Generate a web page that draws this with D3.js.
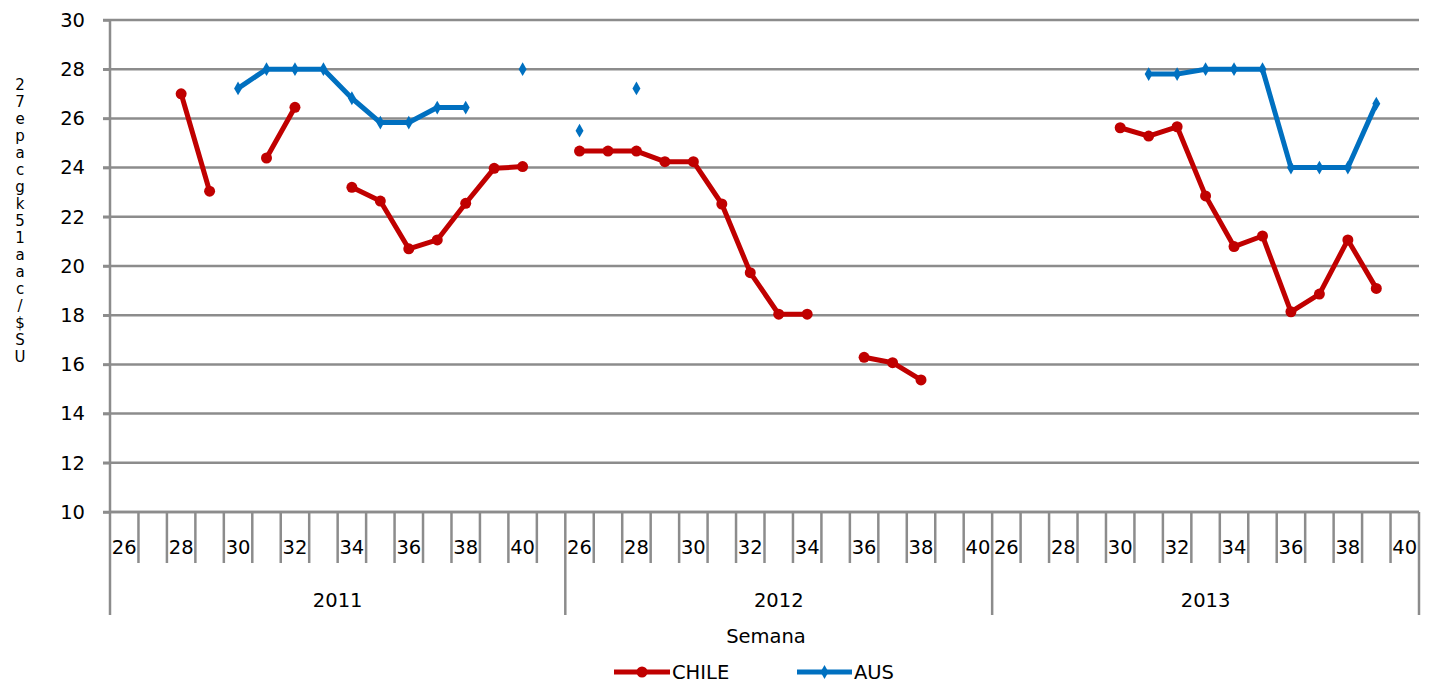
<!DOCTYPE html>
<html>
<head>
<meta charset="utf-8">
<script src="https://cdn.jsdelivr.net/npm/d3@7"></script>
<style>
  html, body { margin: 0; padding: 0; background: #fff; }
  svg { display: block; font-family: "DejaVu Sans", sans-serif; }
</style>
</head>
<body>
<svg id="chart" width="1429" height="687"></svg>
<script>
// ---- Data ----
const years = ["2011", "2012", "2013"];
const weeks2011 = [26,27,28,29,30,31,32,33,34,35,36,37,38,39,40,41];
const weeks2012 = [26,27,28,29,30,31,32,33,34,35,36,37,38,39,40];
const weeks2013 = [26,27,28,29,30,31,32,33,34,35,36,37,38,39,40];

const chile2011 = [null,null,27.0,23.04,null,24.39,26.45,null,23.2,22.64,20.7,21.06,22.55,23.97,24.04,null];
const chile2012 = [24.67,24.67,24.67,24.24,24.24,22.52,19.73,18.04,18.04,null,16.29,16.07,15.37,null,null];
const chile2013 = [null,null,null,null,25.62,25.28,25.66,22.85,20.79,21.22,18.14,18.86,21.06,19.09,null];

const aus2011 = [null,null,null,null,27.22,28.0,28.0,28.0,26.82,25.83,25.83,26.44,26.44,null,28.0,null];
const aus2012 = [25.5,null,27.22,null,null,null,null,null,null,null,null,null,null,null,null];
const aus2013 = [null,null,null,null,null,27.8,27.8,28.0,28.0,28.0,24.0,24.0,24.0,26.6,null];

const yTicks = [10,12,14,16,18,20,22,24,26,28,30];
const yTitle = "27epacgk51aac/$SU";
const xTitle = "Semana";
const seriesNames = ["CHILE", "AUS"];

// ---- Build table ----
const weeksByYear = { "2011": weeks2011, "2012": weeks2012, "2013": weeks2013 };
const chileByYear = { "2011": chile2011, "2012": chile2012, "2013": chile2013 };
const ausByYear = { "2011": aus2011, "2012": aus2012, "2013": aus2013 };
const rows = [];
years.forEach(yr => {
  weeksByYear[yr].forEach((w, i) => {
    rows.push({ key: yr + "-" + w, year: yr, week: w, chile: chileByYear[yr][i], aus: ausByYear[yr][i] });
  });
});

// ---- Layout ----
const svg = d3.select("#chart");
const pLeft = 110, pRight = 1419, pTop = 20, pBottom = 512;
const gridColor = "#8c8c8c";
const red = "#C00000", blue = "#0070C0";
const fs = 19.5;
const ff = "'DejaVu Sans', sans-serif";

const x = d3.scaleBand().domain(rows.map(d => d.key)).range([pLeft, pRight]).padding(0);
const y = d3.scaleLinear().domain([10, 30]).range([pBottom, pTop]);

// gridlines
svg.append("g").selectAll("line").data(yTicks).join("line")
  .attr("x1", pLeft - 7).attr("x2", pRight)
  .attr("y1", d => y(d)).attr("y2", d => y(d))
  .attr("stroke", gridColor).attr("stroke-width", 2.5);

// y axis
const yAxis = d3.axisLeft(y).tickValues(yTicks).tickSize(7).tickPadding(18).tickFormat(d3.format("d"));
const gy = svg.append("g").attr("transform", `translate(${pLeft},0)`).call(yAxis);
gy.select(".domain").remove();
gy.selectAll(".tick line").attr("stroke", gridColor).attr("stroke-width", 2.5);
gy.selectAll(".tick text").attr("font-size", fs).attr("fill", "#000").attr("font-family", ff);

// y axis line
svg.append("line").attr("x1", pLeft).attr("x2", pLeft).attr("y1", pTop).attr("y2", pBottom)
  .attr("stroke", gridColor).attr("stroke-width", 2.5);

// x axis category boundaries
const bw = x.bandwidth();
const boundaries = rows.map(d => ({ pos: x(d.key), long: d.week === 26 }));
boundaries.push({ pos: pRight, long: true });
svg.append("g").selectAll("line").data(boundaries).join("line")
  .attr("x1", d => d.pos).attr("x2", d => d.pos)
  .attr("y1", pBottom).attr("y2", d => d.long ? 615 : 563)
  .attr("stroke", gridColor).attr("stroke-width", 2.5);
svg.append("line").attr("x1", pLeft).attr("x2", pRight).attr("y1", pBottom).attr("y2", pBottom)
  .attr("stroke", gridColor).attr("stroke-width", 2.5);

// week labels
svg.append("g").selectAll("text").data(rows.filter(d => d.week % 2 === 0)).join("text")
  .attr("x", d => x(d.key) + bw / 2).attr("y", 554)
  .attr("text-anchor", "middle").attr("font-size", fs).attr("fill", "#000")
  .text(d => d.week);

// year labels
svg.append("g").selectAll("text").data(years).join("text")
  .attr("x", yr => {
    const ks = rows.filter(r => r.year === yr);
    return (x(ks[0].key) + x(ks[ks.length - 1].key) + bw) / 2;
  })
  .attr("y", 607).attr("text-anchor", "middle").attr("font-size", fs).attr("fill", "#000")
  .text(d => d);

// x title
svg.append("text").attr("x", 766).attr("y", 643).attr("text-anchor", "middle")
  .attr("font-size", fs).attr("fill", "#000").text(xTitle);

// y title (vertical upright characters)
svg.append("text")
  .attr("x", 20).attr("y", 76)
  .attr("font-size", 15).attr("fill", "#000")
  .style("writing-mode", "vertical-rl")
  .style("text-orientation", "upright")
  .style("letter-spacing", "-1px")
  .text(yTitle);

// series
const cx = d => x(d.key) + bw / 2;
function drawSeries(field, color, marker) {
  const line = d3.line().defined(d => d[field] != null).x(cx).y(d => y(d[field]));
  svg.append("path").datum(rows).attr("d", line)
    .attr("fill", "none").attr("stroke", color).attr("stroke-width", 5)
    .attr("stroke-linejoin", "round").attr("stroke-linecap", "round");
  const pts = rows.filter(d => d[field] != null);
  if (marker === "circle") {
    svg.append("g").selectAll("circle").data(pts).join("circle")
      .attr("cx", cx).attr("cy", d => y(d[field])).attr("r", 5.5).attr("fill", color);
  } else {
    const sym = d3.symbol().type(d3.symbolDiamond).size(55);
    svg.append("g").selectAll("path").data(pts).join("path")
      .attr("transform", d => `translate(${cx(d)},${y(d[field])})`)
      .attr("d", sym).attr("fill", color);
  }
}
drawSeries("chile", red, "circle");
drawSeries("aus", blue, "diamond");

// legend
const leg = svg.append("g");
const legendItems = [
  { name: seriesNames[0], color: red, marker: "circle", x0: 614, x1: 670 },
  { name: seriesNames[1], color: blue, marker: "diamond", x0: 797, x1: 852 }
];
legendItems.forEach(it => {
  leg.append("line").attr("x1", it.x0).attr("x2", it.x1).attr("y1", 672).attr("y2", 672)
    .attr("stroke", it.color).attr("stroke-width", 5);
  const mx = (it.x0 + it.x1) / 2;
  if (it.marker === "circle") {
    leg.append("circle").attr("cx", mx).attr("cy", 672).attr("r", 5.5).attr("fill", it.color);
  } else {
    leg.append("path").attr("transform", `translate(${mx},672)`)
      .attr("d", d3.symbol().type(d3.symbolDiamond).size(55)).attr("fill", it.color);
  }
  leg.append("text").attr("x", it.x1 + 2).attr("y", 679).attr("font-size", fs).attr("fill", "#000").text(it.name);
});
</script>
</body>
</html>
